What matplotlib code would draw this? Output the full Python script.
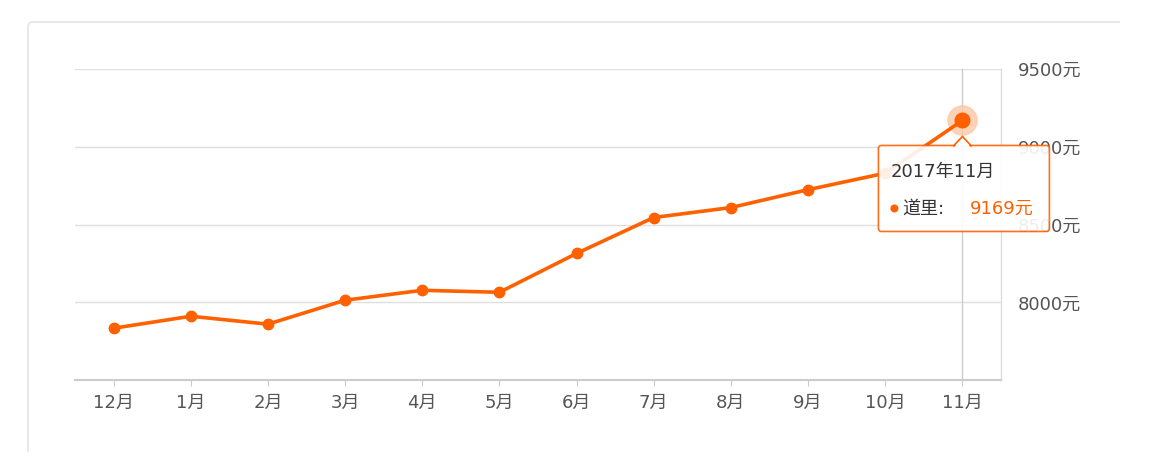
import numpy as np
import matplotlib.pyplot as plt
from matplotlib.patches import FancyBboxPatch, Polygon, Circle, PathPatch
from matplotlib.path import Path
from matplotlib.transforms import IdentityTransform

# latin digits from DejaVu, CJK glyphs fall back to Noto
plt.rcParams['font.family'] = ['DejaVu Sans', 'Noto Sans CJK SC']

months = ['12月', '1月', '2月', '3月', '4月', '5月', '6月', '7月', '8月', '9月', '10月', '11月']
prices = [7833, 7910, 7859, 8013, 8077, 8064, 8314, 8545, 8609, 8724, 8830, 9169]
yticks = [8000, 8500, 9000, 9500]
tip_title = '2017年11月'
tip_name = '道里'

orange = '#ff6000'
grey_txt = '#555555'
fs = 13

fig = plt.figure(figsize=(11.64, 4.68), dpi=100)
W, H = 1164, 468
ident = IdentityTransform()

# card outline (top + left edge, rounded corner), in pixels
r = 5
verts = [(1120, H - 22), (28 + r, H - 22), (28, H - 22), (28, H - 22 - r), (28, H - 452)]
codes = [Path.MOVETO, Path.LINETO, Path.CURVE3, Path.CURVE3, Path.LINETO]
fig.patches.append(PathPatch(Path(verts, codes), transform=ident, fc='none',
                             ec='#e6e6e6', lw=1.3, zorder=-1))

ax = fig.add_axes([75 / W, 1 - 380 / H, (1001 - 75) / W, (380 - 69) / H])
ax.set_facecolor('none')
x = np.arange(len(months))

ax.set_xlim(-0.5, len(months) - 0.5)
ax.set_ylim(7500, 9500)
for v in yticks:
    ax.axhline(v, color='#e0e0e0', lw=1, zorder=1)
ax.axvline(x[-1], color='#cccccc', lw=1, zorder=1)

for s in ['left', 'top']:
    ax.spines[s].set_visible(False)
ax.spines['bottom'].set_color('#cccccc')
ax.spines['bottom'].set_linewidth(1.5)
ax.spines['right'].set_color('#dddddd')
ax.spines['right'].set_linewidth(1)

ax.set_xticks(x)
ax.set_xticklabels(months)
ax.tick_params(axis='x', length=4, color='#cccccc', labelsize=fs, labelcolor=grey_txt, pad=6)
ax.yaxis.tick_right()
ax.set_yticks(yticks)
ax.set_yticklabels([f'{v}元' for v in yticks])
ax.tick_params(axis='y', length=0, labelsize=fs, labelcolor=grey_txt, pad=12)

ax.plot(x, prices, color=orange, lw=2.6, marker='o', ms=7.5, zorder=3, clip_on=False)
ax.plot(x[-1], prices[-1], 'o', color='#fcc9a6', ms=21, alpha=0.8, zorder=2, clip_on=False)
ax.plot(x[-1], prices[-1], 'o', color=orange, ms=10.5, zorder=4, clip_on=False)

# tooltip, placed relative to the highlighted point (pixels)
fig.canvas.draw()
px, py = ax.transData.transform((x[-1], prices[-1]))
bl = px - 84
bt = py - 25
bw, bh = 171, 86
box = FancyBboxPatch((bl, bt - bh), bw, bh, boxstyle='round,pad=0,rounding_size=3',
                     transform=ident, fc='white', ec=orange, lw=1.2, alpha=0.9, zorder=10)
fig.patches.append(box)
arrow = Polygon([[px - 9, bt - 0.5], [px, bt + 9], [px + 9, bt - 0.5]], closed=True,
                transform=ident, fc='white', ec=orange, lw=1.2, zorder=11)
fig.patches.append(arrow)
cover = Polygon([[px - 8, bt - 1.5], [px + 8, bt - 1.5], [px, bt + 7]], closed=True,
                transform=ident, fc='white', ec='none', zorder=12)
fig.patches.append(cover)

fig.text(bl + 12, bt - 26, tip_title, transform=ident, fontsize=fs, color='#333333',
         va='center', ha='left', zorder=13)
fig.patches.append(Circle((bl + 16, bt - 63), 4, transform=ident, fc=orange, ec='none', zorder=13))
fig.text(bl + 24, bt - 63, f'{tip_name}:', transform=ident, fontsize=fs, color='#333333',
         va='center', ha='left', zorder=13)
fig.text(bl + 91, bt - 63, f'{prices[-1]}元', transform=ident, fontsize=fs, color=orange,
         va='center', ha='left', zorder=13)

fig.savefig('out.png', dpi=100)
